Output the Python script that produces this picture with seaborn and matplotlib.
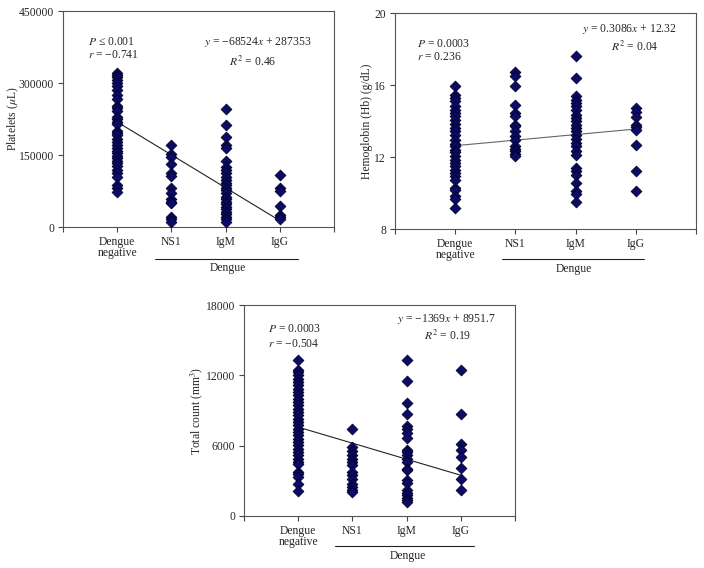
import numpy as np
import pandas as pd
import matplotlib
matplotlib.use("Agg")
import matplotlib.pyplot as plt
import matplotlib.transforms as mtransforms
import seaborn as sns

categories = ["Dengue\nnegative", "NS1", "IgM", "IgG"]

# Platelets (per uL)
plt_neg = [321500, 316600, 311800, 306200, 300700, 293700, 285400, 275000, 266000,
           252000, 247400, 241600, 228500, 224300, 219400, 214000, 200000, 195000,
           191700, 183000, 177800, 170800, 165000, 159000, 153500, 148000, 143100,
           137000, 132600, 127800, 118000, 111800, 104200, 86800, 81900, 72900]
plt_ns1 = [170100, 151400, 146500, 130600, 113100, 106900, 80600, 70200, 57700,
           52800, 49300, 21500, 16000, 11000]
plt_igm = [245100, 212500, 188200, 170800, 163900, 138200, 125700, 118700, 111800,
           104900, 97900, 92400, 87500, 81900, 77100, 71500, 63200, 57600, 52800,
           47200, 42400, 36800, 31900, 26400, 21500, 16000, 11100]
plt_igg = [108300, 80600, 75700, 44400, 25000, 20100, 16000]

# Hemoglobin (g/dL)
hb_neg = [15.96, 15.46, 15.28, 15.09, 14.85, 14.63, 14.44, 14.26, 14.07, 13.85,
          13.61, 13.43, 13.24, 12.96, 12.74, 12.59, 12.41, 12.26, 12.07, 11.85,
          11.67, 11.48, 11.30, 11.11, 10.93, 10.74, 10.28, 10.15, 9.81, 9.67, 9.17]
hb_ns1 = [16.70, 16.52, 15.93, 14.91, 14.44, 14.30, 13.80, 13.70, 13.46, 13.15,
          12.96, 12.59, 12.44, 12.31, 12.19, 12.04]
hb_igm = [17.63, 16.39, 15.37, 15.19, 15.00, 14.81, 14.63, 14.35, 14.17, 13.98,
          13.80, 13.61, 13.43, 13.24, 13.00, 12.78, 12.59, 12.31, 12.13, 11.39,
          11.20, 11.02, 10.56, 10.09, 9.96, 9.48]
hb_igg = [14.72, 14.48, 14.20, 13.79, 13.64, 13.50, 12.64, 11.24, 10.13]

# Total count (mm^3)
tc_neg = [13340, 12490, 12290, 12000, 11720, 11430, 11150, 10860, 10580, 10300,
          10010, 9730, 9440, 9160, 8870, 8590, 8300, 8020, 7740, 7450, 7170, 6880,
          6600, 6310, 6030, 5740, 5460, 5180, 4890, 4610, 4470, 3750, 3560, 3330,
          2700, 2100]
tc_ns1 = [7390, 5890, 5550, 5180, 4890, 4610, 4320, 3750, 3470, 3190, 2760, 2470,
          2250, 2050]
tc_igm = [13340, 11490, 9670, 8670, 7650, 7450, 7080, 6650, 5660, 5460, 5180, 4890,
          4610, 4040, 3900, 3040, 2840, 2250, 1960, 1760, 1560, 1340, 1190]
tc_igg = [12490, 8670, 6110, 5600, 5030, 4100, 3190, 2250]

# Regression fits and stats
slopes = [-68524, 0.3086, -1369]
intercepts = [287353, 12.32, 8951.7]
eq_texts = ["$y$ = \u221268524$x$ + 287353", "$y$ = 0.3086$x$ + 12.32",
            "$y$ = \u22121369$x$ + 8951.7"]
r2_texts = ["$R^2$ = 0.46", "$R^2$ = 0.04", "$R^2$ = 0.19"]
p_texts = ["$P$ \u2264 0.001", "$P$ = 0.0003", "$P$ = 0.0003"]
r_texts = ["$r$ = \u22120.741", "$r$ = 0.236", "$r$ = \u22120.504"]
ylabels = ["Platelets ($\\mu$L)", "Hemoglobin (Hb) (g/dL)", "Total count (mm$^3$)"]
yticks = [[0, 150000, 300000, 450000], [8, 12, 16, 20], [0, 6000, 12000, 18000]]

sns.set_style("ticks")
plt.rcParams["font.family"] = ["Liberation Serif", "DejaVu Serif"]
plt.rcParams["mathtext.fontset"] = "stix"

fig = plt.figure(figsize=(7.04, 5.68), dpi=100)
rects = [
    [63 / 704, 1 - 227 / 568, 271 / 704, 216 / 568],
    [395 / 704, 1 - 229 / 568, 301 / 704, 216 / 568],
    [244 / 704, 1 - 516 / 568, 271 / 704, 211 / 568],
]
datasets = [
    [plt_neg, plt_ns1, plt_igm, plt_igg],
    [hb_neg, hb_ns1, hb_igm, hb_igg],
    [tc_neg, tc_ns1, tc_igm, tc_igg],
]
# text placement (x data, y axes fraction)
p_pos = [(0.46, 0.858, 0.795), (0.37, 0.855, 0.794), (0.44, 0.884, 0.815)]
eq_pos = [(3.6, 0.856, 3.5, 0.764), (3.9, 0.926, 3.99, 0.843), (3.73, 0.934, 3.75, 0.853)]
brackets = [(1.70, 4.34, -0.148, 3.04, -0.19), (1.78, 4.14, -0.139, 2.97, -0.185),
            (1.68, 4.24, -0.142, 3.03, -0.19)]
line_colors = ["#222222", "#666666", "#222222"]
ylabel_x = [13, 367, 197]

fs = 8.4
for i in range(3):
    ax = fig.add_axes(rects[i])
    rows = []
    for k, vals in enumerate(datasets[i]):
        for v in vals:
            rows.append({"pos": k + 1, "value": v})
    df = pd.DataFrame(rows)
    sns.scatterplot(data=df, x="pos", y="value", marker="D", s=30,
                    color="#0c0c66", edgecolor="#000030", linewidth=0.6, ax=ax, zorder=3)
    xs = np.array([1, 4])
    ax.plot(xs, slopes[i] * xs + intercepts[i], color=line_colors[i], lw=0.8, zorder=2)
    ax.set_xlim(0, 5)
    ax.set_ylim(yticks[i][0], yticks[i][-1])
    ax.set_yticks(yticks[i])
    ax.set_yticklabels([str(t) for t in yticks[i]], fontsize=fs)
    ax.set_xticks(range(6))
    ax.set_xticklabels([""] + categories + [""], fontsize=fs, linespacing=0.9)
    ax.tick_params(axis="both", direction="out", length=3.5, width=0.8, pad=3,
                   color="#444444")
    ax.set_xlabel("")
    ax.set_ylabel(ylabels[i], fontsize=fs)
    for sp in ax.spines.values():
        sp.set_visible(True)
        sp.set_color("#555555")
        sp.set_linewidth(0.8)
    trans = ax.get_xaxis_transform()
    ax.text(p_pos[i][0], p_pos[i][1], p_texts[i], transform=trans, fontsize=fs,
            ha="left", va="center")
    ax.text(p_pos[i][0], p_pos[i][2], r_texts[i], transform=trans, fontsize=fs,
            ha="left", va="center")
    ax.text(eq_pos[i][0], eq_pos[i][1], eq_texts[i], transform=trans, fontsize=fs,
            ha="center", va="center")
    ax.text(eq_pos[i][2], eq_pos[i][3], r2_texts[i], transform=trans, fontsize=fs,
            ha="center", va="center")
    b = brackets[i]
    ax.plot([b[0], b[1]], [b[2], b[2]], transform=trans, color="#222222", lw=0.8,
            clip_on=False)
    ax.text(b[3], b[4], "Dengue", transform=trans, fontsize=fs, ha="center",
            va="center")
    blend = mtransforms.blended_transform_factory(fig.transFigure, ax.transAxes)
    ax.yaxis.set_label_coords(ylabel_x[i] / 704, 0.5, transform=blend)
    ax.yaxis.label.set_verticalalignment("center")

fig.savefig("out.png", dpi=100, facecolor="white")
